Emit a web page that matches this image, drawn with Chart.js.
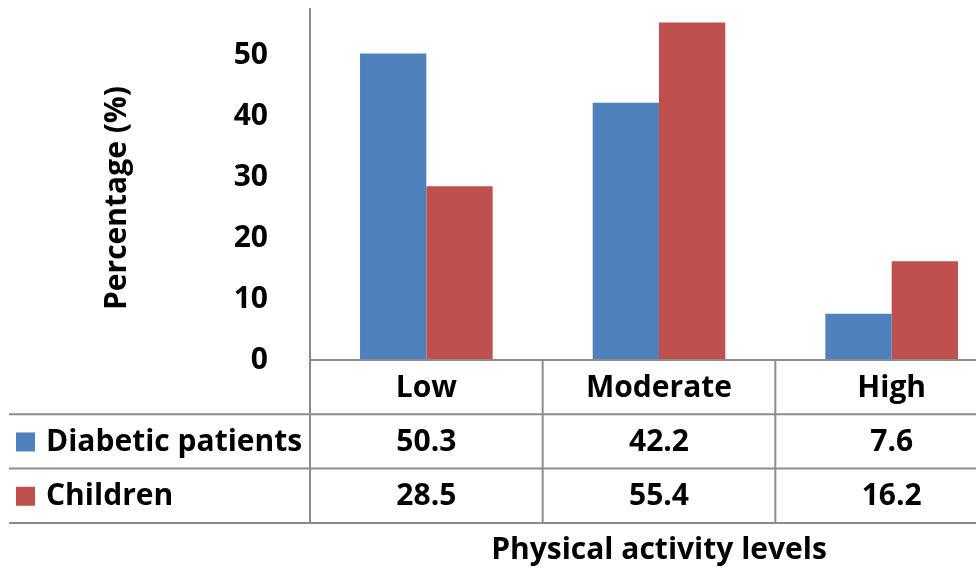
<!DOCTYPE html>
<html>
<head>
<meta charset="utf-8">
<script src="https://cdn.jsdelivr.net/npm/chart.js@4"></script>
<style>
  html, body { margin: 0; padding: 0; background: #fff; overflow: hidden; }
  #wrap { width: 976px; height: 569px; overflow: hidden; }
  canvas { display: block; }
</style>
</head>
<body>
<div id="wrap"><canvas id="chart" width="1008" height="569"></canvas></div>
<script>
// data
const categories = ['Low', 'Moderate', 'High'];
const diabetic = [50.3, 42.2, 7.6];
const children = [28.5, 55.4, 16.2];
const seriesNames = ['Diabetic patients', 'Children'];
const seriesColors = ['#4F81BD', '#C0504D'];
const yTicks = [0, 10, 20, 30, 40, 50];

const FONT = '"Open Sans", "DejaVu Sans", sans-serif';
const FONT_SIZE = 30;
const LINE = '#8c8c8c';

// draws the data table under the plot, the series keys and both axis titles
const tablePlugin = {
  id: 'dataTable',
  afterDraw(chart) {
    const ctx = chart.ctx;
    const area = chart.chartArea;
    const x = chart.scales.x;
    const catW = (area.right - area.left) / categories.length;
    const rowH = 54.3;
    const top = area.bottom;
    const rows = [top, top + rowH, top + rowH * 2, top + rowH * 3];

    ctx.save();
    ctx.strokeStyle = LINE;
    ctx.lineWidth = 2;
    ctx.beginPath();
    // axis line / top of the table
    ctx.moveTo(area.left, rows[0]);
    ctx.lineTo(area.right, rows[0]);
    // row lines run under the key column too
    for (let r = 1; r < rows.length; r++) {
      ctx.moveTo(9, rows[r]);
      ctx.lineTo(area.right, rows[r]);
    }
    // column lines
    for (let i = 0; i <= categories.length; i++) {
      const cx = area.left + catW * i;
      ctx.moveTo(cx, rows[0]);
      ctx.lineTo(cx, rows[3]);
    }
    ctx.stroke();

    ctx.fillStyle = '#000';
    ctx.font = 'bold ' + FONT_SIZE + 'px ' + FONT;
    ctx.textBaseline = 'middle';
    ctx.textAlign = 'center';
    const values = [diabetic, children];
    categories.forEach((c, i) => {
      const cx = x.getPixelForValue(i);
      ctx.fillText(c, cx, (rows[0] + rows[1]) / 2 + 1);
      values.forEach((v, s) => {
        ctx.fillText(v[i].toFixed(1), cx, (rows[s + 1] + rows[s + 2]) / 2 + 1);
      });
    });

    // series keys
    ctx.textAlign = 'left';
    seriesNames.forEach((name, s) => {
      const cy = (rows[s + 1] + rows[s + 2]) / 2;
      ctx.fillStyle = seriesColors[s];
      ctx.fillRect(16, cy - 9, 19, 19);
      ctx.fillStyle = '#000';
      ctx.fillText(name, 46, cy + 1);
    });

    // axis titles
    ctx.textAlign = 'center';
    ctx.fillText('Physical activity levels', (area.left + area.right) / 2, 550);
    ctx.translate(117, 198);
    ctx.rotate(-Math.PI / 2);
    ctx.fillText('Percentage (%)', 0, 0);
    ctx.restore();
  }
};

new Chart(document.getElementById('chart'), {
  type: 'bar',
  data: {
    labels: categories,
    datasets: [{
      label: seriesNames[0],
      data: diabetic,
      backgroundColor: seriesColors[0],
      borderWidth: 0
    }, {
      label: seriesNames[1],
      data: children,
      backgroundColor: seriesColors[1],
      borderWidth: 0
    }]
  },
  options: {
    responsive: false,
    devicePixelRatio: 1,
    animation: false,
    layout: { padding: { top: 9, bottom: 209, left: 0, right: 0 } },
    datasets: { bar: { categoryPercentage: 0.57, barPercentage: 1 } },
    plugins: {
      legend: { display: false },
      tooltip: { enabled: false }
    },
    scales: {
      x: { display: false },
      y: {
        min: 0,
        max: 57.6,
        afterBuildTicks: s => { s.ticks = yTicks.map(v => ({ value: v })); },
        afterFit: s => { s.width = 310; s.paddingTop = 0; s.paddingBottom = 0; },
        ticks: {
          padding: 34,
          color: '#000',
          font: { family: FONT, size: FONT_SIZE, weight: 'bold' }
        },
        grid: { display: false },
        border: { display: true, color: LINE, width: 2 }
      }
    }
  },
  plugins: [tablePlugin]
});
</script>
</body>
</html>
